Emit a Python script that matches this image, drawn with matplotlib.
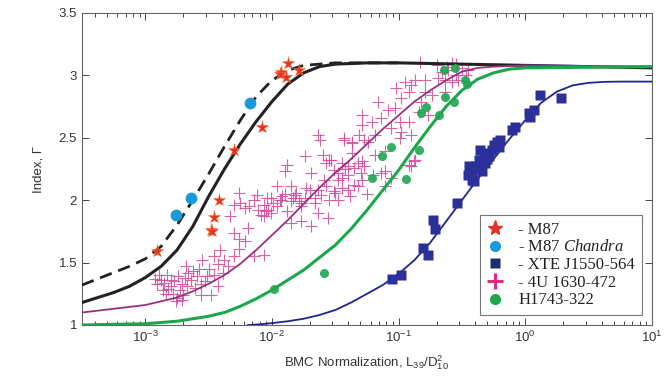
import numpy as np
import matplotlib
matplotlib.use('Agg')
import matplotlib.pyplot as plt
from matplotlib.ticker import FixedLocator, FormatStrFormatter, LogLocator, NullFormatter
from matplotlib.lines import Line2D

plt.rcParams['font.family'] = ['Liberation Sans', 'DejaVu Sans']
plt.rcParams['mathtext.fontset'] = 'custom'
plt.rcParams['mathtext.rm'] = 'Liberation Sans'
plt.rcParams['mathtext.it'] = 'Liberation Serif:italic'

# --- curves: log10(normalization) and index ---
solid_logn = [-3.5, -3.375, -3.25, -3.125, -3.0, -2.875, -2.75, -2.625, -2.5, -2.375, -2.25,
              -2.125, -2.0, -1.875, -1.75, -1.625, -1.5, -1.25, -1.0, 0.0, 1.0]
solid_gam = [1.18, 1.22, 1.26, 1.31, 1.38, 1.47, 1.60, 1.79, 2.03, 2.25, 2.45,
             2.63, 2.79, 2.93, 3.02, 3.07, 3.09, 3.10, 3.10, 3.08, 3.06]

dash_logn = [-3.5, -3.375, -3.25, -3.125, -3.0, -2.875, -2.75, -2.625, -2.5, -2.375, -2.25,
             -2.125, -2.0, -1.875, -1.75, -1.5, -1.0]
dash_gam = [1.32, 1.37, 1.42, 1.47, 1.53, 1.63, 1.80, 2.00, 2.21, 2.43, 2.64,
            2.83, 2.96, 3.04, 3.08, 3.10, 3.10]

pink_logn = [-3.5, -3.25, -3.0, -2.875, -2.75, -2.625, -2.5, -2.375, -2.25, -2.125, -2.0,
             -1.875, -1.75, -1.625, -1.5, -1.375, -1.25, -1.125, -1.0, -0.875,
             -0.75, -0.625, -0.5, -0.375, -0.25, -0.125, 0.0, 1.0]
pink_gam = [1.10, 1.13, 1.16, 1.19, 1.22, 1.27, 1.33, 1.40, 1.49, 1.60, 1.72,
            1.84, 1.97, 2.10, 2.22, 2.33, 2.45, 2.57, 2.68, 2.79,
            2.88, 2.96, 3.03, 3.06, 3.07, 3.075, 3.08, 3.07]

green_logn = [-3.5, -3.25, -3.0, -2.875, -2.75, -2.625, -2.5, -2.375, -2.25, -2.125, -2.0,
              -1.875, -1.75, -1.625, -1.5, -1.375, -1.25, -1.125,
              -1.0, -0.875, -0.75, -0.625, -0.5, -0.375, -0.25, -0.125, 0.0, 1.0]
green_gam = [1.00, 1.005, 1.01, 1.02, 1.03, 1.05, 1.07, 1.10, 1.15, 1.21, 1.28,
             1.36, 1.44, 1.54, 1.64, 1.77, 1.92, 2.08,
             2.24, 2.42, 2.59, 2.75, 2.88, 2.97, 3.02, 3.05, 3.06, 3.07]

navy_logn = [-2.19, -2.1, -2.0, -1.875, -1.75, -1.625, -1.5, -1.375, -1.25, -1.125, -1.0,
             -0.875, -0.75, -0.625, -0.5, -0.375, -0.25, -0.125, 0.0, 0.125, 0.25,
             0.375, 0.5, 0.625, 0.75, 1.0]
navy_gam = [1.00, 1.005, 1.015, 1.03, 1.05, 1.08, 1.12, 1.18, 1.25, 1.32, 1.41,
            1.52, 1.66, 1.83, 2.00, 2.17, 2.33, 2.49, 2.64, 2.78, 2.87,
            2.92, 2.94, 2.948, 2.95, 2.95]

# --- observations ---
m87_logn = [-2.905, -2.42, -2.46, -2.48, -2.47, -2.30, -2.08, -1.87, -1.93, -1.89, -1.79, -1.94]
m87_gam = [1.59, 2.00, 1.865, 1.76, 1.75, 2.40, 2.59, 3.10, 3.03, 2.99, 3.04, 3.01]

chandra_logn = [-2.76, -2.64, -2.17]
chandra_gam = [1.88, 2.02, 2.78]

xte_logn = [-1.056, -0.984, -0.81, -0.77, -0.73, -0.714, -0.54, -0.405,
            -0.444, -0.42, -0.365, -0.325, -0.34, -0.285, -0.26, -0.22, -0.206, -0.198,
            -0.42, -0.396, -0.317, -0.45, -0.38, -0.30, -0.36, -0.25,
            -0.103, -0.079, 0.032, 0.071, 0.04, 0.119, 0.286]
xte_gam = [1.37, 1.40, 1.62, 1.56, 1.84, 1.77, 1.98, 2.15,
           2.27, 2.22, 2.32, 2.38, 2.23, 2.35, 2.40, 2.47, 2.43, 2.48,
           2.16, 2.27, 2.30, 2.20, 2.26, 2.33, 2.40, 2.44,
           2.56, 2.59, 2.70, 2.72, 2.67, 2.84, 2.82]

h1743_logn = [-1.98, -1.59, -1.21, -1.13, -1.06, -0.94, -0.84, -0.82, -0.78, -0.68,
              -0.635, -0.56, -0.64, -0.555, -0.476, -0.46]
h1743_gam = [1.29, 1.42, 2.18, 2.35, 2.43, 2.17, 2.40, 2.70, 2.75, 2.68,
             2.83, 2.79, 3.04, 3.06, 2.96, 2.93]

u1630_logn = [
    -2.91, -2.88, -2.86, -2.83, -2.80, -2.80, -2.78, -2.76, -2.74, -2.71, -2.71, -2.68,
    -2.67, -2.64, -2.62, -2.59, -2.56, -2.56, -2.55, -2.51, -2.50, -2.48, -2.46, -2.46,
    -2.43, -2.43, -2.41, -2.39, -2.38, -2.35, -2.33, -2.30, -2.30, -2.26, -2.26, -2.21,
    -2.19, -2.14, -2.06, -2.85, -2.82, -2.77, -2.73, -2.69, -2.66, -2.61, -2.58, -2.53,
    -2.70, -2.75, -2.89, -2.92, -2.84,
    -2.30, -2.26, -2.25, -2.21, -2.14, -2.11, -2.09, -2.06, -2.05, -2.04, -2.01, -1.96,
    -1.92, -1.88, -1.85, -1.81, -1.77, -1.77, -1.74, -1.70, -1.66, -1.64, -1.61, -1.57,
    -1.55, -2.18, -2.12, -1.99, -1.94, -1.90, -1.83, -1.79,
    -1.64, -1.62, -1.43, -1.37, -1.31, -1.88, -1.90, -1.74, -1.69, -1.60, -1.55, -1.57,
    -1.59, -1.64, -1.96, -1.85, -2.01, -1.93, -1.82, -1.77, -2.03, -2.06, -1.85, -1.69,
    -1.56, -1.48, -1.40, -1.32, -1.29, -1.48, -1.45, -1.40, -1.32, -1.51, -1.66, -1.73,
    -1.51, -1.37, -1.27,
    -1.29, -1.43, -1.37, -0.95, -0.90, -0.87, -0.79, -1.08, -1.03, -0.99, -0.98, -0.99,
    -1.06, -1.14, -1.19, -1.24, -0.92, -0.90, -0.88, -0.92, -1.11, -1.19, -1.29, -1.35,
    -1.40, -1.11, -1.06, -0.82, -0.74, -0.63, -0.79, -0.66, -0.61, -0.55, -0.50, -0.58,
    -0.53, -0.63, -0.69, -0.47, -0.98, -0.92, -1.02, -0.84, -0.77, -1.16, -1.29, -1.21,
    -0.83, -0.70, -0.62, -0.55, -0.45, -0.58,
    -1.53, -1.48, -1.45, -1.42, -1.50, -1.27, -1.14, -1.11, -0.90, -0.87,
    -1.45, -1.35, -1.25, -1.20, -1.30, -1.38]
u1630_gam = [
    1.33, 1.36, 1.28, 1.40, 1.31, 1.36, 1.25, 1.19, 1.39, 1.20, 1.33, 1.47,
    1.31, 1.36, 1.43, 1.39, 1.33, 1.24, 1.52, 1.39, 1.45, 1.24, 1.40, 1.55,
    1.49, 1.31, 1.60, 1.42, 1.52, 1.47, 1.87, 1.74, 1.55, 1.61, 1.69, 1.67,
    1.78, 1.55, 1.56, 1.34, 1.29, 1.35, 1.28, 1.38, 1.42, 1.30, 1.45, 1.35,
    1.24, 1.22, 1.40, 1.37, 1.25,
    1.96, 2.06, 1.98, 1.94, 2.00, 1.92, 1.88, 1.96, 1.91, 2.02, 1.90, 1.95,
    2.03, 1.91, 1.99, 2.06, 1.95, 1.83, 2.02, 2.08, 1.98, 1.90, 2.04, 2.11,
    2.00, 1.95, 2.04, 1.98, 2.00, 2.05, 2.02, 1.99,
    2.52, 2.48, 2.48, 2.46, 2.52, 2.28, 2.23, 2.35, 2.22, 2.36, 2.32, 2.30,
    2.16, 2.08, 2.11, 2.11, 2.02, 2.00, 2.04, 1.98, 1.92, 1.87, 1.82, 1.79,
    1.86, 2.00, 2.08, 2.11, 2.16, 2.16, 2.30, 2.27, 2.30, 2.07, 2.02, 2.10,
    2.24, 2.38, 2.48,
    2.68, 2.50, 2.47, 2.95, 2.92, 2.96, 2.96, 2.72, 2.74, 2.63, 2.55, 2.50,
    2.58, 2.66, 2.52, 2.47, 2.63, 2.52, 2.31, 2.28, 2.39, 2.36, 2.31, 2.26,
    2.20, 2.23, 2.18, 2.79, 2.84, 2.87, 2.87, 3.03, 3.04, 3.00, 3.06, 2.95,
    2.96, 2.96, 2.98, 3.00, 2.82, 2.87, 2.90, 2.71, 2.68, 2.79, 2.60, 2.63,
    3.11, 3.08, 3.07, 3.09, 3.04, 3.10,
    2.32, 2.22, 2.10, 2.25, 2.06, 2.27, 2.22, 2.11, 2.27, 2.32,
    2.18, 2.12, 2.05, 2.20, 2.22, 2.03]


def main():
    fig = plt.figure(figsize=(6.65, 3.81), dpi=100)
    ax = fig.add_axes([0.1233, 0.147, 0.857, 0.819])

    # crosses first, lines on top
    ax.plot(10 ** np.array(u1630_logn), u1630_gam, ls='none', marker='+', ms=8, mew=0.8,
            color='#d0489a', alpha=0.85, zorder=2)

    ax.plot(10 ** np.array(dash_logn), dash_gam, color='#222222', lw=2.0, ls=(0, (4.5, 2.5)), zorder=3)
    ax.plot(10 ** np.array(solid_logn), solid_gam, color='#222222', lw=2.2, zorder=3)
    ax.plot(10 ** np.array(pink_logn), pink_gam, color='#9c2f7c', lw=1.3, zorder=4)
    ax.plot(10 ** np.array(green_logn), green_gam, color='#1ba84c', lw=2.2, zorder=4)
    ax.plot(10 ** np.array(navy_logn), navy_gam, color='#1f2590', lw=1.3, zorder=4)

    ax.plot(10 ** np.array(h1743_logn), h1743_gam, ls='none', marker='o', ms=6.5,
            color='#1fa550', mec='none', alpha=0.9, zorder=5)
    ax.plot(10 ** np.array(xte_logn), xte_gam, ls='none', marker='s', ms=7,
            color='#2a2f9a', mec='none', zorder=5)
    ax.plot(10 ** np.array(chandra_logn), chandra_gam, ls='none', marker='o', ms=8.5,
            color='#1a9ad8', mec='none', zorder=5)
    ax.plot(10 ** np.array(m87_logn), m87_gam, ls='none', marker='*', ms=9.5,
            color='#e8302a', mec='#f07a30', mew=0.4, zorder=6)

    ax.set_xscale('log')
    ax.set_xlim(10 ** -3.5, 10)
    ax.set_ylim(1, 3.5)
    ax.yaxis.set_major_locator(FixedLocator([1, 1.5, 2, 2.5, 3, 3.5]))
    ax.yaxis.set_major_formatter(FormatStrFormatter('%g'))
    ax.xaxis.set_major_locator(LogLocator(base=10, numticks=10))
    ax.xaxis.set_minor_locator(LogLocator(base=10, subs=np.arange(2, 10), numticks=20))
    ax.xaxis.set_minor_formatter(NullFormatter())

    ax.tick_params(which='both', direction='in', top=True, right=True,
                   colors='#444444', labelcolor='#333333', labelsize=9.5, width=0.7)
    ax.tick_params(which='major', length=5)
    ax.tick_params(which='minor', length=3)
    for s in ax.spines.values():
        s.set_color('#666666')
        s.set_linewidth(0.8)

    ax.set_xlabel('BMC Normalization, L$_{39}$/D$_{10}^{2}$', fontsize=9.5, color='#333333', labelpad=6)
    ax.set_ylabel('Index, Γ', fontsize=9.5, color='#333333', labelpad=10)

    handles = [
        Line2D([], [], ls='none', marker='*', ms=11, color='#e8302a', mec='#e8302a'),
        Line2D([], [], ls='none', marker='o', ms=8, color='#1a9ad8', mec='none'),
        Line2D([], [], ls='none', marker='s', ms=7, color='#1a2d70', mec='none'),
        Line2D([], [], ls='none', marker='+', ms=11, mew=2.2, color='#e0288a'),
        Line2D([], [], ls='none', marker='o', ms=8, color='#1fa550', mec='none'),
    ]
    labels = ['- M87', '- M87 $\\mathit{Chandra}$', '- XTE J1550-564', '- 4U 1630-472', 'H1743-322']
    leg = ax.legend(handles, labels, loc='lower right', bbox_to_anchor=(0.982, 0.032),
                    borderaxespad=0, fancybox=False, framealpha=1, edgecolor='#777777',
                    prop={'family': 'Liberation Serif', 'size': 12}, labelspacing=0.1,
                    handlelength=1.0, handletextpad=0.9, borderpad=0.4)
    leg.get_frame().set_linewidth(0.8)
    for t in leg.get_texts():
        t.set_color('#222222')

    fig.savefig('out.png', dpi=100)


if __name__ == '__main__':
    main()
